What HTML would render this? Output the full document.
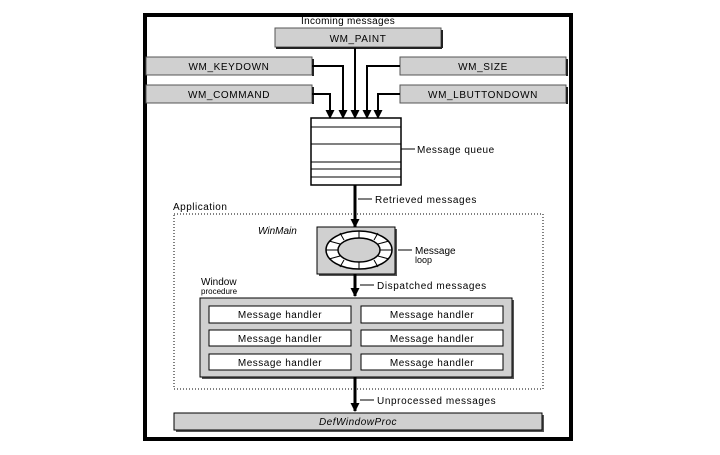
<!DOCTYPE html>
<html><head><style>body{margin:0;background:#fff}</style></head><body>
<svg width="720" height="450" xmlns="http://www.w3.org/2000/svg" font-family="Liberation Sans, sans-serif" font-size="10">
<defs><marker id="a" markerWidth="9" markerHeight="9" refX="8" refY="4.5" orient="auto" markerUnits="userSpaceOnUse"><path d="M0,0 L9,4.5 L0,9 Z" fill="#000"/></marker></defs>
<rect x="145" y="15" width="426" height="424" fill="#fff" stroke="#000" stroke-width="4"/>
<text x="301" y="24" letter-spacing="0.3">Incoming messages</text>
<g fill="#d0d0d0" stroke="#555">
<rect x="275" y="28" width="166" height="19"/>
<rect x="146" y="57" width="166" height="18"/>
<rect x="146" y="85" width="166" height="18"/>
<rect x="400" y="57" width="166" height="18"/>
<rect x="400" y="85" width="166" height="18"/>
</g>
<g stroke="#222" stroke-width="2"><line x1="442" y1="30" x2="442" y2="48"/><line x1="276" y1="48" x2="442" y2="48"/><line x1="313" y1="59" x2="313" y2="76"/><line x1="313" y1="87" x2="313" y2="104"/><line x1="567" y1="59" x2="567" y2="76"/><line x1="567" y1="87" x2="567" y2="104"/></g>
<g text-anchor="middle" letter-spacing="0.6"><text x="358" y="42">WM_PAINT</text><text x="229" y="70">WM_KEYDOWN</text><text x="229" y="98">WM_COMMAND</text><text x="483" y="70">WM_SIZE</text><text x="483" y="98">WM_LBUTTONDOWN</text></g>
<g stroke="#000" stroke-width="2" fill="none" marker-end="url(#a)">
<path d="M355,48 V118"/><path d="M312,66 H343 V118"/><path d="M312,94 H330 V118"/><path d="M400,66 H367 V118"/><path d="M400,94 H378 V118"/>
</g>
<rect x="311" y="118" width="90" height="67" fill="#fff" stroke="#000" stroke-width="1.5"/>
<g stroke="#000"><line x1="311" y1="127" x2="401" y2="127"/><line x1="311" y1="144" x2="401" y2="144"/><line x1="311" y1="162" x2="401" y2="162"/><line x1="311" y1="169" x2="401" y2="169"/><line x1="311" y1="177" x2="401" y2="177"/><line x1="401" y1="149" x2="415" y2="149"/><line x1="358" y1="199" x2="372" y2="199"/><line x1="398" y1="250" x2="412" y2="250"/><line x1="360" y1="285" x2="374" y2="285"/><line x1="360" y1="400" x2="374" y2="400"/></g>
<text x="417" y="153" letter-spacing="0.5">Message queue</text>
<text x="375" y="203" letter-spacing="0.6">Retrieved messages</text>
<text x="173" y="210" letter-spacing="0.5">Application</text>
<rect x="174" y="214" width="369" height="175" fill="none" stroke="#000" stroke-dasharray="1,2"/>
<path d="M355,185 V227" stroke="#000" stroke-width="3" marker-end="url(#a)"/>
<text x="258" y="234" font-style="italic">WinMain</text>
<rect x="319" y="229" width="78" height="47" fill="#555"/>
<rect x="317" y="227" width="78" height="47" fill="#d0d0d0" stroke="#000"/>
<ellipse cx="359" cy="250" rx="33" ry="19" fill="#fff" stroke="#000" stroke-width="1.5"/>
<ellipse cx="359" cy="250" rx="21" ry="12" fill="#d0d0d0" stroke="#000" stroke-width="1.5"/>
<g stroke="#000"><line x1="359" y1="231" x2="359" y2="238"/><line x1="359" y1="262" x2="359" y2="269"/><line x1="326" y1="250" x2="338" y2="250"/><line x1="380" y1="250" x2="392" y2="250"/><line x1="340" y1="233" x2="344" y2="240"/><line x1="378" y1="233" x2="374" y2="240"/><line x1="340" y1="267" x2="344" y2="260"/><line x1="378" y1="267" x2="374" y2="260"/><line x1="329" y1="241" x2="340" y2="244"/><line x1="389" y1="241" x2="378" y2="244"/><line x1="329" y1="259" x2="340" y2="256"/><line x1="389" y1="259" x2="378" y2="256"/></g>
<text x="415" y="254">Message</text><text x="415" y="263" font-size="9">loop</text>
<path d="M355,274 V296" stroke="#000" stroke-width="3" marker-end="url(#a)"/>
<text x="377" y="289" letter-spacing="0.6">Dispatched messages</text>
<text x="201" y="285">Window</text><text x="201" y="294" font-size="8">procedure</text>
<rect x="202" y="300" width="312" height="79" fill="#555"/>
<rect x="200" y="298" width="312" height="79" fill="#d0d0d0" stroke="#000"/>
<g fill="#fff" stroke="#000"><rect x="209" y="306" width="142" height="17"/><rect x="361" y="306" width="142" height="17"/><rect x="209" y="330" width="142" height="16"/><rect x="361" y="330" width="142" height="16"/><rect x="209" y="354" width="142" height="16"/><rect x="361" y="354" width="142" height="16"/></g>
<g text-anchor="middle" letter-spacing="0.5"><text x="280" y="318">Message handler</text><text x="432" y="318">Message handler</text><text x="280" y="342">Message handler</text><text x="432" y="342">Message handler</text><text x="280" y="366">Message handler</text><text x="432" y="366">Message handler</text></g>
<path d="M355,377 V411" stroke="#000" stroke-width="3" marker-end="url(#a)"/>
<text x="377" y="404" letter-spacing="0.6">Unprocessed messages</text>
<rect x="176" y="415" width="368" height="17" fill="#555"/>
<rect x="174" y="413" width="368" height="17" fill="#d0d0d0" stroke="#000"/>
<text x="358" y="425" text-anchor="middle" font-style="italic" letter-spacing="0.5">DefWindowProc</text>
</svg>
</body></html>
